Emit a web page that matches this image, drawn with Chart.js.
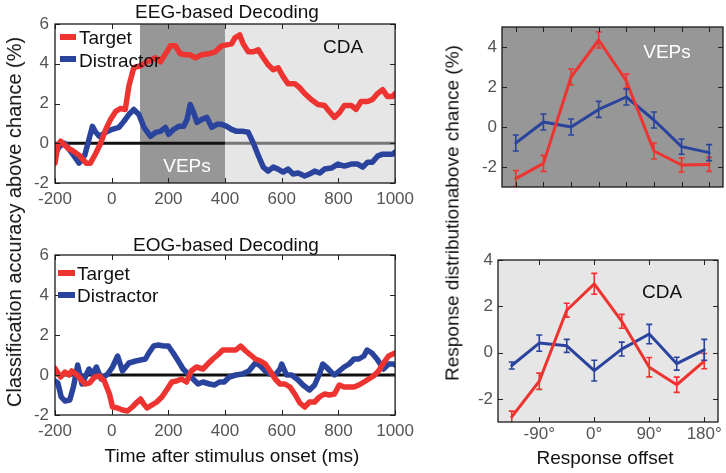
<!DOCTYPE html>
<html><head><meta charset="utf-8">
<script src="https://cdn.jsdelivr.net/npm/chart.js@4.4.1/dist/chart.umd.min.js"></script>
<style>
html,body{margin:0;padding:0;background:#fff;}
body{width:726px;height:473px;overflow:hidden;position:relative;font-family:"Liberation Sans",Arial,Helvetica,sans-serif;}
canvas{position:absolute;}
.t{position:absolute;white-space:nowrap;color:#111;line-height:1;transform:translate(-50%,-50%);}
.r{transform:translate(-50%,-50%) rotate(-90deg);}
.l{position:absolute;white-space:nowrap;color:#111;line-height:1;transform:translateY(-50%);font-size:19px;}
.sw{position:absolute;height:6px;transform:translateY(-50%);}
</style></head><body>
<canvas id="c1" width="420" height="215" style="left:0;top:0;width:420px;height:215px"></canvas>
<canvas id="c2" width="420" height="215" style="left:0;top:230px;width:420px;height:215px"></canvas>
<canvas id="c3" width="266" height="215" style="left:460px;top:0;width:266px;height:215px"></canvas>
<canvas id="c4" width="266" height="215" style="left:460px;top:240px;width:266px;height:215px"></canvas>

<div class="t" style="left:227px;top:11px;font-size:19px">EEG-based Decoding</div>
<div class="t" style="left:226px;top:244px;font-size:19px">EOG-based Decoding</div>
<div class="t r" style="left:14px;top:222px;font-size:20px">Classification accuracy above chance (%)</div>
<div class="t" style="left:232px;top:455px;font-size:19px">Time after stimulus onset (ms)</div>
<div class="t r" style="left:452px;top:213px;font-size:19px">Response distributionabove chance (%)</div>
<div class="t" style="left:605px;top:457px;font-size:19px">Response offset</div>
<div class="t" style="left:187px;top:165px;font-size:19px;color:#fff">VEPs</div>
<div class="t" style="left:343px;top:46px;font-size:19px">CDA</div>
<div class="t" style="left:667px;top:51px;font-size:19px;color:#fff">VEPs</div>
<div class="t" style="left:662px;top:291px;font-size:19px">CDA</div>

<div class="sw" style="left:60px;top:37px;width:16px;background:rgb(237,52,48)"></div>
<div class="l" style="left:79px;top:37px">Target</div>
<div class="sw" style="left:60px;top:59px;width:16px;background:rgb(42,68,158)"></div>
<div class="l" style="left:79px;top:60px">Distractor</div>
<div class="sw" style="left:58px;top:273px;width:17px;background:rgb(237,52,48)"></div>
<div class="l" style="left:77px;top:273px">Target</div>
<div class="sw" style="left:58px;top:295px;width:17px;background:rgb(42,68,158)"></div>
<div class="l" style="left:77px;top:295px">Distractor</div>

<script>
// ---------- DATA ----------
const timeTicks = [-200, 0, 200, 400, 600, 800, 1000];
const accTicks = [-2, 0, 2, 4, 6];

const eegTargetTime = [-200,-190,-180,-165,-150,-140,-115,-90,-75,-56,-39,-21,-4,14,32,48,61,78,102,125,155,172,190,207,225,242,260,277,295,318,342,365,388,406,423,435,452,464,482,500,517,535,552,570,587,605,622,646,663,681,704,728,751,768,786,804,821,845,862,880,903,920,938,956,973,991,1000];
const eegTargetVal  = [-1.0,-0.1,0.1,-0.1,-0.3,-0.35,-0.6,-1.0,-1.0,-0.5,0.0,0.7,1.2,1.6,1.75,1.7,2.9,3.8,3.9,4.1,4.3,4.1,4.5,4.9,4.9,4.5,4.45,4.45,4.3,4.45,4.5,4.6,4.9,4.95,5.0,5.3,5.45,5.0,4.6,4.6,4.7,4.3,3.95,3.7,3.8,3.35,3.0,3.0,2.8,2.5,2.2,1.95,1.9,1.6,1.3,1.55,1.9,1.9,1.7,2.1,2.1,2.2,2.5,2.7,2.35,2.35,2.5];

const eegDistTime = [-200,-183,-166,-140,-115,-95,-68,-56,-44,-21,2,26,43,61,78,96,114,137,155,172,190,201,219,237,254,266,277,289,301,318,336,353,371,388,406,423,441,464,482,500,517,535,552,570,587,605,622,640,658,681,698,716,734,751,775,798,821,845,868,886,903,920,938,956,973,991,1000];
const eegDistVal  = [-0.5,-0.15,0.0,-0.5,-1.0,-0.6,0.85,0.55,0.35,0.55,0.7,0.8,1.1,1.45,1.7,1.45,0.8,0.35,0.55,0.6,0.8,0.45,0.7,0.85,0.85,1.2,1.95,1.55,1.05,1.2,1.3,0.8,0.95,0.95,0.85,0.7,0.6,0.6,0.55,0.0,-0.6,-1.2,-1.4,-1.2,-1.3,-1.45,-1.3,-1.55,-1.5,-1.65,-1.55,-1.4,-1.5,-1.3,-1.25,-1.05,-1.15,-1.05,-1.05,-1.2,-0.95,-0.95,-0.65,-0.55,-0.55,-0.55,-0.45];

const eogTargetTime = [-200,-180,-165,-150,-141,-118,-95,-78,-60,-43,-26,-8,3,21,38,56,73,90,102,113,125,142,159,177,194,212,229,246,264,281,299,322,339,357,374,392,415,438,455,473,490,507,525,542,559,577,594,611,629,646,664,681,698,716,733,751,768,786,803,820,838,855,872,890,907,924,942,959,977,1000];
const eogTargetVal  = [0.33,-0.1,0.15,0.0,0.2,-0.05,-0.45,-0.4,-0.1,-0.05,-0.3,-0.95,-1.6,-1.65,-1.75,-1.8,-1.6,-1.35,-1.2,-1.45,-1.65,-1.5,-1.35,-1.1,-0.75,-0.35,-0.3,-0.2,-0.35,0.2,0.4,0.3,0.55,0.8,1.0,1.25,1.25,1.25,1.45,1.2,1.0,0.8,0.7,0.55,0.2,-0.2,-0.45,-0.45,-0.6,-0.95,-1.4,-1.6,-1.35,-1.35,-1.1,-0.95,-1.0,-0.95,-0.5,-0.6,-0.6,-0.6,-0.5,-0.35,-0.2,-0.05,0.2,0.6,0.95,1.1];

const eogDistTime = [-200,-190,-178,-165,-148,-135,-120,-105,-80,-66,-54,-37,-14,3,21,38,61,85,119,131,148,165,183,200,217,235,252,270,287,305,322,345,363,380,397,415,438,461,484,507,525,542,559,577,594,600,617,635,658,675,698,716,733,745,757,774,786,803,820,838,855,872,890,901,918,936,959,977,994,1000];
const eogDistVal  = [-0.3,-0.4,-1.1,-1.3,-1.25,-0.6,0.5,-0.45,0.3,0.05,0.4,-0.2,0.05,0.4,0.95,0.2,0.6,0.7,0.8,1.1,1.45,1.5,1.45,1.45,1.1,0.7,0.3,0.05,-0.2,-0.45,-0.35,-0.45,-0.5,-0.35,-0.35,-0.1,0.0,0.05,0.2,0.6,0.45,0.2,0.05,0.0,0.3,0.55,0.0,0.0,-0.25,-0.5,-0.75,-0.5,0.05,0.55,0.4,0.15,0.0,0.2,0.4,0.55,0.8,0.8,0.95,1.25,1.1,0.8,0.3,0.55,0.55,0.5];

const offsets = [-135, -90, -45, 0, 45, 90, 135, 180];
const offsetTicks = [-90, 0, 90, 180];
const distTicks = [-2, 0, 2, 4];

const vepTarget     = [-2.58, -1.82, 2.5, 4.35, 2.3, -1.2, -1.9, -1.87];
const vepTargetErr  = [0.4, 0.4, 0.4, 0.4, 0.35, 0.4, 0.35, 0.35];
const vepDist       = [-0.8, 0.25, 0.0, 0.88, 1.5, 0.35, -0.98, -1.28];
const vepDistErr    = [0.4, 0.4, 0.4, 0.4, 0.4, 0.4, 0.38, 0.4];

const cdaTarget     = [-2.78, -1.24, 1.83, 2.97, 1.35, -0.63, -1.39, -0.37];
const cdaTargetErr  = [0.25, 0.35, 0.3, 0.45, 0.3, 0.42, 0.33, 0.33];
const cdaDist       = [-0.56, 0.41, 0.29, -0.78, 0.15, 0.8, -0.48, 0.12];
const cdaDistErr    = [0.15, 0.35, 0.28, 0.45, 0.3, 0.42, 0.28, 0.45];

// ---------- STYLE ----------
const RED = 'rgb(237,52,48)';
const BLUE = 'rgb(42,68,158)';
const DARK = '#979797';
const LIGHT = '#e6e6e6';
const FONT = '"Liberation Sans", Arial, Helvetica, sans-serif';

const pts = (xs, ys) => xs.map((x, i) => ({x, y: ys[i]}));

const deco = {
  id: 'deco',
  beforeDatasetsDraw(chart, args, o) {
    const {ctx, chartArea: a, scales: {x, y}} = chart;
    ctx.save();
    if (o.bg) { ctx.fillStyle = o.bg; ctx.fillRect(a.left, a.top, a.width, a.height); }
    (o.shade || []).forEach(s => {
      const x0 = x.getPixelForValue(s.from), x1 = x.getPixelForValue(s.to);
      ctx.fillStyle = s.color; ctx.fillRect(x0, a.top, x1 - x0, a.height);
    });
    (o.zero || []).forEach(z => {
      const yy = y.getPixelForValue(0);
      ctx.strokeStyle = z.color; ctx.lineWidth = z.width || 3;
      ctx.beginPath(); ctx.moveTo(x.getPixelForValue(z.from), yy); ctx.lineTo(x.getPixelForValue(z.to), yy); ctx.stroke();
    });
    ctx.restore();
  },
  afterDatasetsDraw(chart, args, o) {
    const {ctx, chartArea: a, scales: {x, y}} = chart;
    ctx.save();
    ctx.beginPath(); ctx.rect(a.left, a.top, a.width, a.height); ctx.clip();
    (o.err || []).forEach(e => {
      ctx.strokeStyle = e.color; ctx.lineWidth = 1.6;
      e.xs.forEach((xv, i) => {
        const px = x.getPixelForValue(xv);
        const p0 = y.getPixelForValue(e.ys[i] - e.es[i]);
        const p1 = y.getPixelForValue(e.ys[i] + e.es[i]);
        ctx.beginPath();
        ctx.moveTo(px, p0); ctx.lineTo(px, p1);
        ctx.moveTo(px - 3, p0); ctx.lineTo(px + 3, p0);
        ctx.moveTo(px - 3, p1); ctx.lineTo(px + 3, p1);
        ctx.stroke();
      });
    });
    ctx.restore();
    ctx.save();
    ctx.strokeStyle = '#222'; ctx.lineWidth = 1;
    const L = 5;
    (o.xt || []).forEach(v => {
      const px = Math.round(x.getPixelForValue(v)) + 0.5;
      ctx.beginPath();
      ctx.moveTo(px, a.bottom); ctx.lineTo(px, a.bottom - L);
      ctx.moveTo(px, a.top); ctx.lineTo(px, a.top + L);
      ctx.stroke();
    });
    (o.yt || []).forEach(v => {
      const py = Math.round(y.getPixelForValue(v)) + 0.5;
      ctx.beginPath();
      ctx.moveTo(a.left, py); ctx.lineTo(a.left + L, py);
      ctx.moveTo(a.right, py); ctx.lineTo(a.right - L, py);
      ctx.stroke();
    });
    ctx.strokeStyle = '#1a1a1a'; ctx.lineWidth = 1.3;
    ctx.strokeRect(a.left, a.top, a.width, a.height);
    ctx.restore();
  }
};

function makeChart(id, datasets, opt) {
  return new Chart(document.getElementById(id), {
    type: 'line',
    data: {datasets},
    plugins: [deco],
    options: {
      responsive: false,
      animation: false,
      events: [],
      layout: {padding: opt.padding},
      plugins: {legend: {display: false}, tooltip: {enabled: false}, deco: opt.deco},
      scales: {
        x: {
          type: 'linear', min: opt.xmin, max: opt.xmax,
          grid: {display: false, drawTicks: false}, border: {display: false},
          afterBuildTicks: s => { s.ticks = opt.xlab.map(v => ({value: v})); },
          afterFit: s => { s.height = opt.xh; },
          ticks: {display: opt.xlab.length > 0, padding: opt.xpad, color: '#555',
                  font: {family: FONT, size: 17}, maxRotation: 0, autoSkip: false,
                  callback: opt.xfmt || (v => String(v))}
        },
        y: {
          type: 'linear', min: opt.ymin, max: opt.ymax,
          grid: {display: false, drawTicks: false}, border: {display: false},
          afterBuildTicks: s => { s.ticks = opt.ylab.map(v => ({value: v})); },
          afterFit: s => { s.width = opt.yw; },
          ticks: {padding: opt.ypad, color: '#555', font: {family: FONT, size: 17},
                  callback: v => String(v)}
        }
      }
    }
  });
}

const lineDs = (data, color, w) => ({data, borderColor: color, borderWidth: w, pointRadius: 0,
  tension: 0, fill: false, borderJoinStyle: 'round', borderCapStyle: 'round'});

makeChart('c1', [
  lineDs(pts(eegTargetTime, eegTargetVal), RED, 5.5),
  lineDs(pts(eegDistTime, eegDistVal), BLUE, 5.5)
], {
  padding: {top: 24, right: 20, left: 0, bottom: 0},
  xmin: -200, xmax: 1000, ymin: -2, ymax: 6, xlab: timeTicks, ylab: accTicks,
  xh: 32, yw: 55, xpad: 6, ypad: 6,
  deco: {
    shade: [{from: 100, to: 400, color: DARK}, {from: 400, to: 1000, color: LIGHT}],
    zero: [{from: -200, to: 400, color: '#111'}, {from: 400, to: 1000, color: '#777'}],
    xt: timeTicks, yt: accTicks
  }
});

makeChart('c2', [
  lineDs(pts(eogTargetTime, eogTargetVal), RED, 5.5),
  lineDs(pts(eogDistTime, eogDistVal), BLUE, 5.5)
], {
  padding: {top: 25, right: 20, left: 0, bottom: 0},
  xmin: -200, xmax: 1000, ymin: -2, ymax: 6, xlab: timeTicks, ylab: accTicks,
  xh: 30, yw: 55, xpad: 6, ypad: 6,
  deco: {
    zero: [{from: -200, to: 1000, color: '#111'}],
    xt: timeTicks, yt: accTicks
  }
});

makeChart('c3', [
  lineDs(pts(offsets, vepTarget), RED, 3),
  lineDs(pts(offsets, vepDist), BLUE, 3)
], {
  padding: {top: 27, right: 3, left: 0, bottom: 0},
  xmin: -157.5, xmax: 202.5, ymin: -3, ymax: 5, xlab: [], ylab: distTicks,
  xh: 28, yw: 42, xpad: 4, ypad: 5,
  deco: {
    bg: DARK,
    err: [{xs: offsets, ys: vepTarget, es: vepTargetErr, color: RED},
          {xs: offsets, ys: vepDist, es: vepDistErr, color: BLUE}],
    xt: offsets, yt: distTicks
  }
});

makeChart('c4', [
  lineDs(pts(offsets, cdaTarget), RED, 3),
  lineDs(pts(offsets, cdaDist), BLUE, 3)
], {
  padding: {top: 20, right: 8, left: 0, bottom: 0},
  xmin: -157.5, xmax: 202.5, ymin: -3, ymax: 4, xlab: offsetTicks, ylab: distTicks,
  xh: 33, yw: 38, xpad: 2, ypad: 5, xfmt: v => v + '°',
  deco: {
    bg: LIGHT,
    err: [{xs: offsets, ys: cdaTarget, es: cdaTargetErr, color: RED},
          {xs: offsets, ys: cdaDist, es: cdaDistErr, color: BLUE}],
    xt: offsetTicks, yt: distTicks
  }
});
</script>
</body></html>
